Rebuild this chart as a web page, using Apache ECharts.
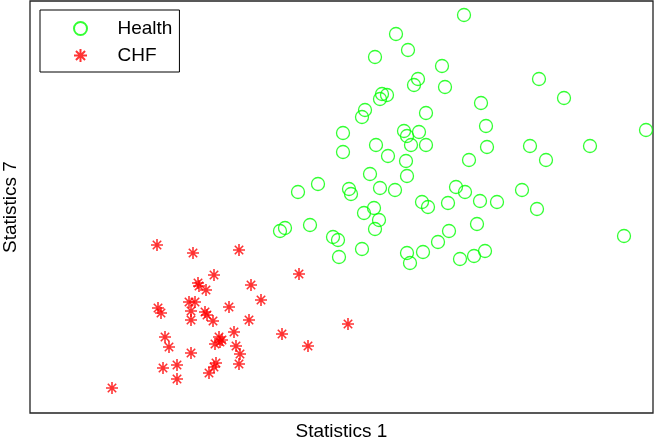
<!DOCTYPE html>
<html>
  <head>
    <meta charset="utf-8" />
    <title>Statistics scatter</title>
    <script src="https://cdn.jsdelivr.net/npm/echarts@6/dist/echarts.min.js"></script>
    <style>
      * {
        margin: 0;
        padding: 0;
      }
      html,
      body,
      #container {
        width: 654px;
        height: 438px;
        background: #fff;
      }
    </style>
  </head>
  <body>
    <div id="container"></div>
    <script>
      // values (axis units, no tick labels in the original)
      const healthX = [434, 366, 378, 345, 412, 388, 384, 415, 352, 357, 350, 335, 332, 396, 313, 374, 389, 377,
        346, 381, 396, 313, 358, 376, 439, 340, 377, 288, 268, 319, 321, 350, 365, 426, 435, 392, 398, 418,
        344, 334, 349, 345, 280, 255, 250, 303, 308, 419, 408, 332, 309, 377, 380, 393, 430, 444, 455, 447,
        450, 467, 492, 507, 509, 534, 451, 456, 457, 500, 560, 616, 516, 594];
      const healthY = [398, 379, 363, 356, 347, 334, 328, 326, 319, 318, 314, 303, 296, 300, 280, 282, 281, 277,
        268, 268, 268, 261, 257, 252, 253, 239, 237, 229, 221, 224, 219, 225, 223, 226, 221, 211, 206, 210,
        205, 200, 193, 184, 188, 185, 182, 176, 173, 182, 171, 164, 156, 160, 150, 161, 154, 157, 162, 189,
        212, 211, 223, 204, 334, 315, 310, 287, 266, 267, 267, 283, 253, 177];
      const chfX = [127, 163, 209, 184, 269, 168, 169, 176, 221, 231, 159, 165, 128, 131, 161, 175, 177, 183,
        161, 199, 219, 204, 189, 192, 190, 135, 139, 185, 206, 210, 161, 252, 278, 318, 133, 147, 186, 184,
        179, 209, 147, 82];
      const chfY = [168, 160, 163, 138, 139, 130, 127, 123, 128, 113, 111, 111, 105, 100, 102, 101, 98, 92,
        93, 106, 93, 81, 76, 73, 71, 76, 66, 69, 67, 59, 60, 79, 67, 89, 45, 48, 50, 46, 40, 49, 34, 25];

      const starPath = "path://M0 6L12 6M6 0L6 12M1.8 1.8L10.2 10.2M1.8 10.2L10.2 1.8";
      const font = "Liberation Sans";

      const chart = echarts.init(document.getElementById("container"), null, { renderer: "canvas" });
      chart.setOption({
        animation: false,
        backgroundColor: "#fff",
        textStyle: { fontFamily: font },
        grid: {
          left: 30,
          right: 1,
          top: 1,
          bottom: 25,
          show: true,
          borderColor: "#222",
          borderWidth: 1.3,
          containLabel: false,
          outerBoundsMode: "none",
        },
        legend: {
          left: 40,
          top: 10,
          orient: "vertical",
          itemWidth: 64,
          itemHeight: 13,
          itemGap: 8,
          padding: [9, 7, 7, 33],
          borderColor: "#000",
          borderWidth: 1,
          backgroundColor: "#fff",
          selectedMode: false,
          textStyle: { fontFamily: font, fontSize: 19, color: "#000" },
          data: ["Health", "CHF"],
        },
        xAxis: {
          type: "value",
          min: 0,
          max: 623,
          name: "Statistics 1",
          nameLocation: "middle",
          nameGap: 9,
          nameTextStyle: { fontFamily: font, fontSize: 19, color: "#000", verticalAlign: "top" },
          axisLine: { show: false },
          axisTick: { show: false },
          axisLabel: { show: false },
          splitLine: { show: false },
        },
        yAxis: {
          type: "value",
          min: 0,
          max: 412,
          name: "Statistics 7",
          nameLocation: "middle",
          nameGap: 10,
          nameTextStyle: { fontFamily: font, fontSize: 19, color: "#000" },
          axisLine: { show: false },
          axisTick: { show: false },
          axisLabel: { show: false },
          splitLine: { show: false },
        },
        series: [
          {
            name: "Health",
            type: "scatter",
            symbol: "circle",
            symbolSize: 13,
            itemStyle: { color: "rgba(0,0,0,0)", borderColor: "#00ff00", borderWidth: 1.3 },
            data: healthX.map((x, i) => [x, healthY[i]]),
          },
          {
            name: "CHF",
            type: "scatter",
            symbol: starPath,
            symbolSize: 12,
            symbolKeepAspect: true,
            itemStyle: { color: "rgba(0,0,0,0)", borderColor: "#ff0000", borderWidth: 1.6 },
            data: chfX.map((x, i) => [x, chfY[i]]),
          },
        ],
      });
    </script>
  </body>
</html>
